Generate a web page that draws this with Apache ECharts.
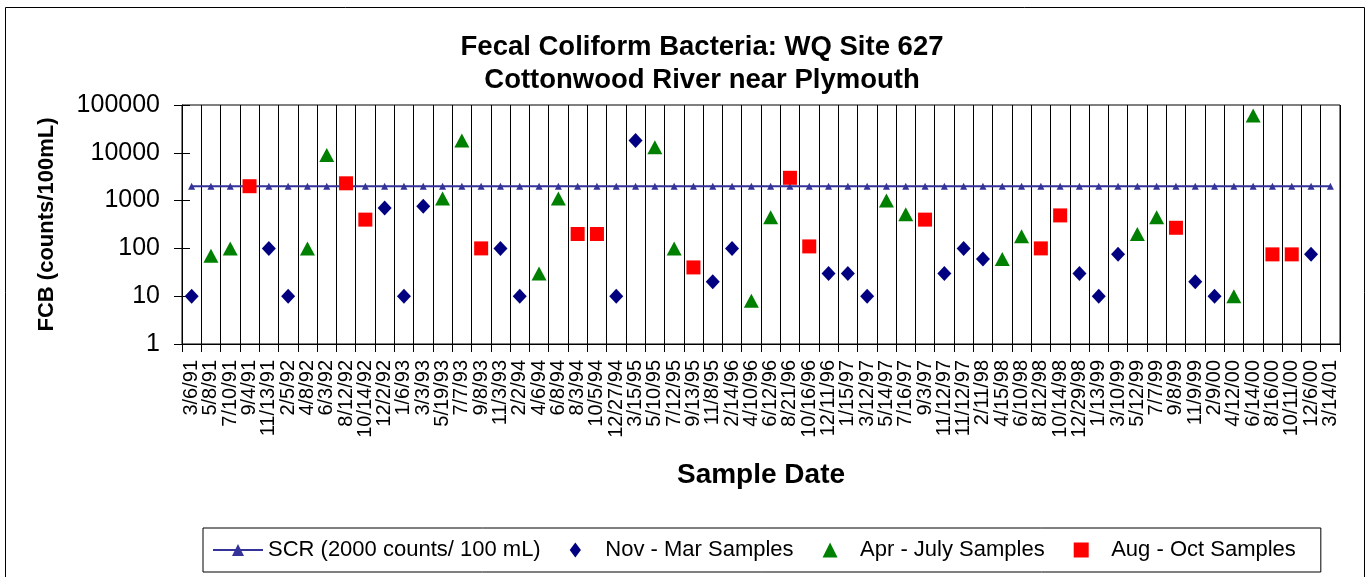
<!DOCTYPE html>
<html>
<head>
<meta charset="utf-8">
<script src="https://cdn.jsdelivr.net/npm/echarts@6/dist/echarts.min.js"></script>
<style>
html,body{margin:0;padding:0;background:#fff;}
#chart{width:1370px;height:577px;}
</style>
</head>
<body>
<div id="chart"></div>
<script>
var sampleDates = ['3/6/91','5/8/91','7/10/91','9/4/91','11/13/91','2/5/92','4/8/92','6/3/92','8/12/92','10/14/92',
  '12/2/92','1/6/93','3/3/93','5/19/93','7/7/93','9/8/93','11/3/93','2/2/94','4/6/94','6/8/94',
  '8/3/94','10/5/94','12/27/94','3/15/95','5/10/95','7/12/95','9/13/95','11/8/95','2/14/96','4/10/96',
  '6/12/96','8/21/96','10/16/96','12/11/96','1/15/97','3/12/97','5/14/97','7/16/97','9/3/97','11/12/97',
  '11/12/97','2/11/98','4/15/98','6/10/98','8/12/98','10/14/98','12/29/98','1/13/99','3/10/99','5/12/99',
  '7/7/99','9/8/99','11/9/99','2/9/00','4/12/00','6/14/00','8/16/00','10/11/00','12/6/00','3/14/01'];
var fcbValues = [10,70,100,2000,100,10,100,9000,2300,400,
  700,10,760,1100,18000,100,100,10,30,1100,
  200,200,10,18000,13000,100,40,20,100,8,
  450,3000,110,30,30,10,1000,520,400,30,
  100,60,60,180,100,490,30,10,75,200,
  450,270,20,10,10,60000,75,75,75,null];
// N = Nov-Mar, A = Apr-July, S = Aug-Oct
var seasonGroup = ['N','A','A','S','N','N','A','A','S','S',
  'N','N','N','A','A','S','N','N','A','A',
  'S','S','N','N','A','A','S','N','N','A',
  'A','S','S','N','N','N','A','A','S','N',
  'N','N','A','A','S','S','N','N','N','A',
  'A','S','N','N','A','A','S','S','N','N'];
var scrLimit = 2000;
var yTicks = [1,10,100,1000,10000,100000];

function groupData(g){
  var out = [];
  for (var i = 0; i < sampleDates.length; i++){
    if (seasonGroup[i] === g && fcbValues[i] != null) out.push([i, fcbValues[i]]);
  }
  return out;
}
var scrData = sampleDates.map(function(){ return scrLimit; });

var FONT = "'Liberation Sans', Arial, sans-serif";
var chart = echarts.init(document.getElementById('chart'), null, {renderer:'canvas'});
chart.setOption({
  animation:false,
  backgroundColor:'#fff',
  textStyle:{fontFamily:FONT, color:'#000'},
  graphic:[{type:'rect', shape:{x:5.5,y:7.5,width:1359,height:580}, style:{fill:'none', stroke:'#000', lineWidth:1}, silent:true}],
  title:{
    text:'Fecal Coliform Bacteria: WQ Site 627\nCottonwood River near Plymouth',
    left:697, textAlign:'center', top:26,
    textStyle:{fontFamily:FONT, fontWeight:'bold', fontSize:27.5, lineHeight:33, color:'#000'}
  },
  grid:{left:182, top:105, right:30, bottom:233, show:true, borderColor:'#000', borderWidth:1, backgroundColor:'#fff', containLabel:false},
  legend:{
    left:203, top:528,
    orient:'horizontal',
    borderColor:'#000', borderWidth:1,
    padding:[11,25,11,9],
    itemGap:29, itemWidth:50, itemHeight:15,
    symbolKeepAspect:true,
    textStyle:{fontFamily:FONT, fontSize:22, color:'#000'},
    data:[
      {name:'SCR (2000 counts/ 100 mL)'},
      {name:'Nov - Mar Samples', icon:'path://M0,-1L0.75,0L0,1L-0.75,0Z'},
      {name:'Apr - July Samples', icon:'path://M0.5,0L1,1L0,1Z'},
      {name:'Aug - Oct Samples', icon:'path://M0,0L1,0L1,1L0,1Z'}
    ]
  },
  xAxis:{
    type:'category', data:sampleDates, boundaryGap:true,
    name:'Sample Date', nameLocation:'middle', nameGap:117,
    nameTextStyle:{fontFamily:FONT, fontWeight:'bold', fontSize:28, color:'#000'},
    axisLine:{lineStyle:{color:'#000', width:1}},
    axisTick:{show:true, interval:0, length:8, lineStyle:{color:'#000'}},
    axisLabel:{interval:0, rotate:90, fontSize:20, fontFamily:FONT, color:'#000', margin:16, hideOverlap:false},
    splitLine:{show:true, interval:0, lineStyle:{color:'#000', width:1}}
  },
  yAxis:[{
    type:'log', logBase:10, min:yTicks[0], max:yTicks[yTicks.length-1], interval:1,
    name:'FCB (counts/100mL)', nameLocation:'middle', nameGap:124, nameRotate:90,
    nameTextStyle:{fontFamily:FONT, fontWeight:'bold', fontSize:22, color:'#000'},
    axisLine:{show:true, lineStyle:{color:'#000', width:1}},
    axisTick:{show:true, length:8, lineStyle:{color:'#000'}},
    axisLabel:{fontSize:25, fontFamily:FONT, color:'#000', margin:22,
      formatter:function(v){ return String(Math.round(v)); }},
    splitLine:{show:false}
  },{
    type:'log', logBase:10, min:yTicks[0], max:yTicks[yTicks.length-1], interval:1, position:'left',
    axisLine:{show:false},
    axisTick:{show:true, inside:true, length:8, lineStyle:{color:'#000'}},
    axisLabel:{show:false},
    splitLine:{show:false}
  }],
  series:[
    {name:'SCR (2000 counts/ 100 mL)', type:'line', data:scrData, symbol:'triangle', symbolSize:7,
      itemStyle:{color:'#333399'}, lineStyle:{color:'#333399', width:2}, z:3},
    {name:'Nov - Mar Samples', type:'scatter', data:groupData('N'), symbol:'diamond', symbolSize:[14,15],
      itemStyle:{color:'#000080', opacity:1}, z:4},
    {name:'Apr - July Samples', type:'scatter', data:groupData('A'), symbol:'triangle', symbolSize:[15,14],
      itemStyle:{color:'#008000', opacity:1}, z:4},
    {name:'Aug - Oct Samples', type:'scatter', data:groupData('S'), symbol:'rect', symbolSize:14,
      itemStyle:{color:'#FF0000', opacity:1}, z:4}
  ]
});
</script>
</body>
</html>
